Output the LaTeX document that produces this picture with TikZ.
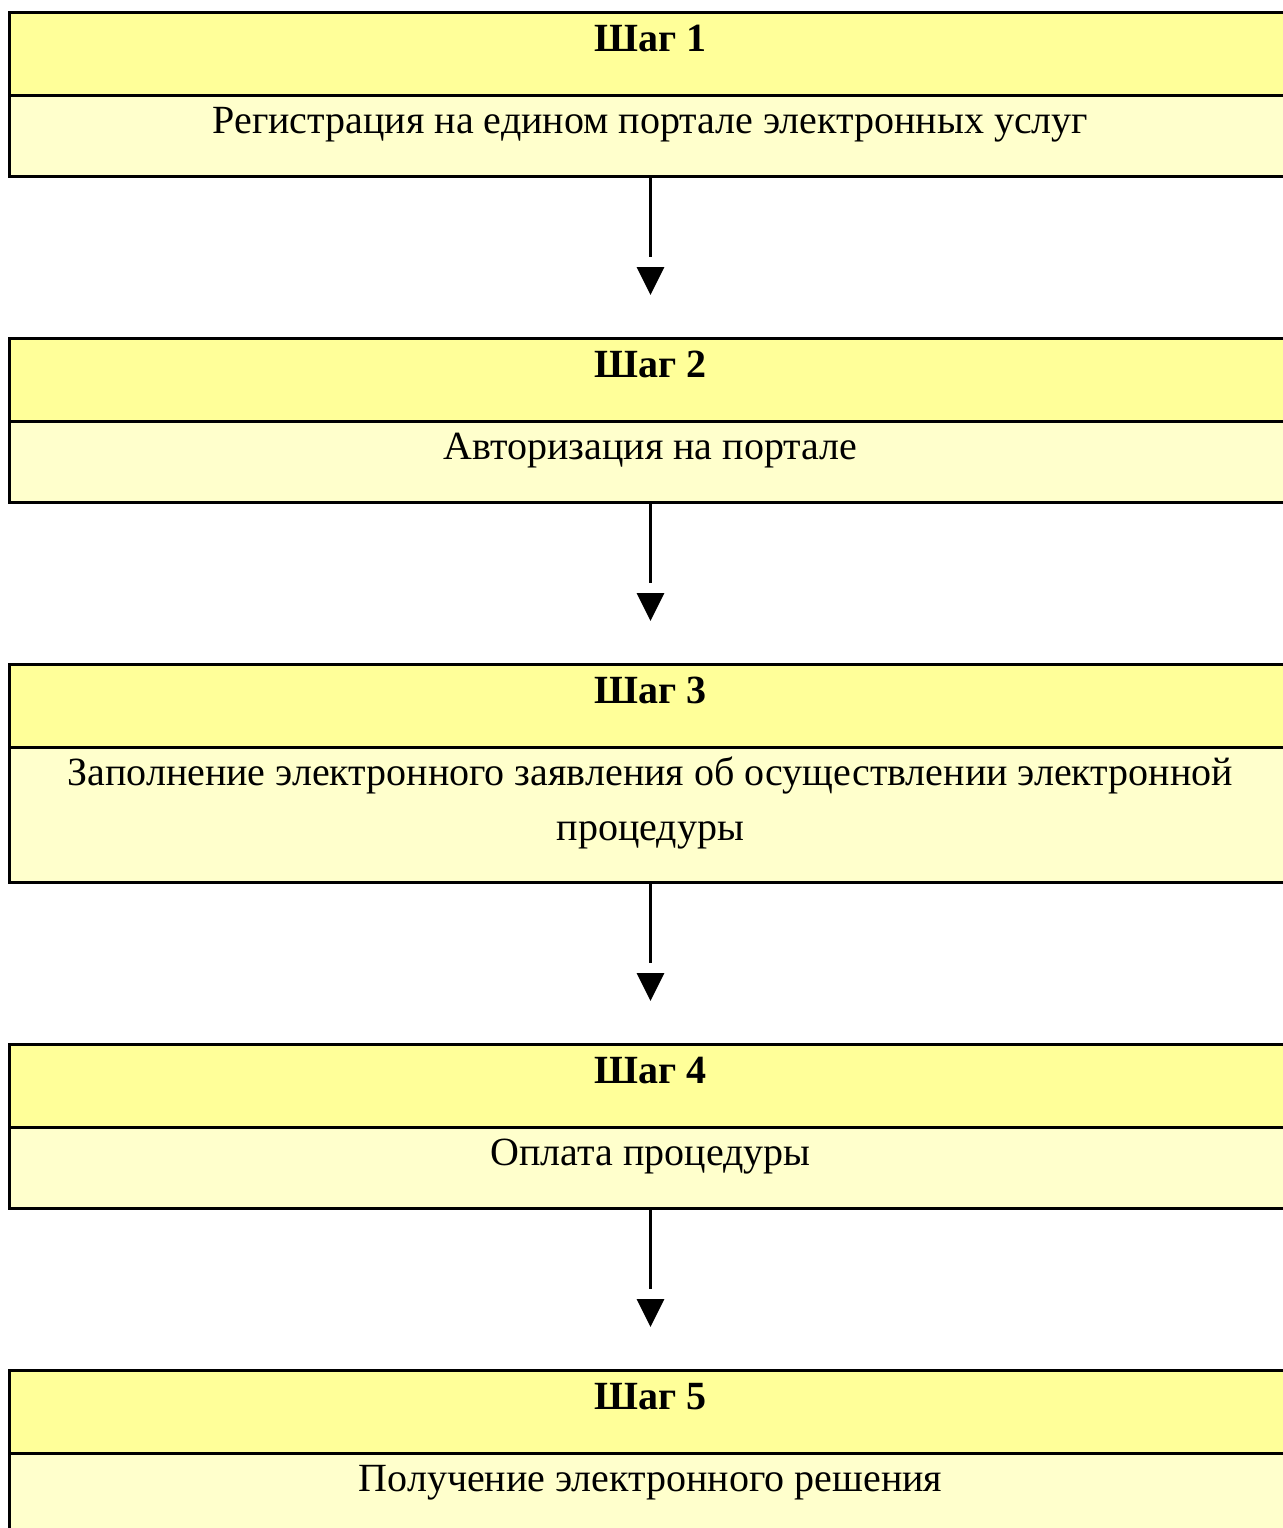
\documentclass[tikz,border=0pt]{standalone}
\usepackage{fontspec}
\setmainfont{Liberation Serif}
\usetikzlibrary{positioning, arrows.meta, decorations.markings}

\definecolor{headyellow}{HTML}{FFFF99}
\definecolor{bodyyellow}{HTML}{FFFFCC}

\begin{document}
\begin{tikzpicture}[
    x=0.5pt, y=-0.5pt,
    every node/.style={font=\fontsize{20}{27.5}\selectfont},
    stephead/.style={rectangle, draw, line width=1.5pt, fill=headyellow, minimum width=641pt,
        inner sep=0pt, outer sep=0pt, text height=19.5pt, text depth=22pt,
        font=\fontsize{20}{27.5}\selectfont\bfseries, anchor=north},
    stepbody/.style={rectangle, draw, line width=1.5pt, fill=bodyyellow, minimum width=641pt,
        inner sep=0pt, outer sep=0pt, text height=19pt, text depth=21.5pt, align=center},
    flow/.style={line width=1.5pt, shorten >=40.5pt,
        postaction={decorate, decoration={markings,
            mark=at position -21.5pt with {\arrow{Triangle[width=13.5pt, length=14pt]}}}}}
]

% Parameters
\newcommand{\BoxGap}{81pt}

\useasboundingbox (0,0) rectangle (1283,1528);

% Steps
\node[stephead] (hd1) at (650.5,12) {Шаг 1};
\node[stepbody, below=0pt of hd1] (bd1) {Регистрация на едином портале электронных услуг};

\node[stephead, below=\BoxGap of bd1] (hd2) {Шаг 2};
\node[stepbody, below=0pt of hd2] (bd2) {Авторизация на портале};

\node[stephead, below=\BoxGap of bd2] (hd3) {Шаг 3};
\node[stepbody, below=0pt of hd3, text height=46.5pt, text depth=21pt] (bd3) {Заполнение электронного заявления об осуществлении электронной\\процедуры};

\node[stephead, below=\BoxGap of bd3] (hd4) {Шаг 4};
\node[stepbody, below=0pt of hd4] (bd4) {Оплата процедуры};

\node[stephead, below=\BoxGap of bd4] (hd5) {Шаг 5};
\node[stepbody, below=0pt of hd5] (bd5) {Получение электронного решения};

% Arrows between steps
\foreach \s [evaluate=\s as \n using int(\s+1)] in {1,...,4}{
    \draw[flow] (bd\s) -- (hd\n);
}

\end{tikzpicture}
\end{document}
